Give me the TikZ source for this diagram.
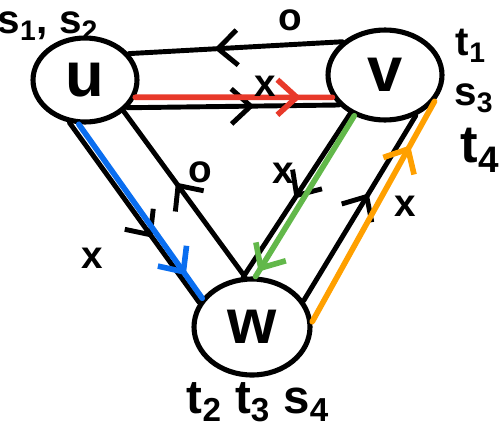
\documentclass[tikz,border=0pt]{standalone}
\usepackage{fontspec}
\setmainfont{Liberation Sans}
\usetikzlibrary{shapes.geometric,arrows.meta,decorations.markings}
\definecolor{penred}{HTML}{E8392A}
\definecolor{penblue}{HTML}{0A6EF0}
\definecolor{pengreen}{HTML}{62B84A}
\definecolor{penorange}{HTML}{FFA000}
\tikzset{
  vertex/.style={draw, ellipse, line width=2.9pt, inner sep=0pt, font=\bfseries\fontsize{36}{36}\selectfont},
  edge/.style={line width=2.8pt, line cap=round},
  hl/.style={line width=3.2pt, line cap=round},
  midarrow/.style={postaction={decorate, decoration={markings,
      mark=at position #1 with {\arrow{Straight Barb[length=11pt,width=20pt]}}}}},
  elabel/.style={font=\bfseries\fontsize{22}{22}\selectfont, inner sep=0pt},
  vlabel/.style={font=\bfseries\fontsize{23}{23}\selectfont, inner sep=0pt},
}
\begin{document}
\begin{tikzpicture}[x=0.02cm, y=-0.02cm]
\useasboundingbox (0,0) rectangle (502,436);
% vertices
\node[vertex, minimum width=2.08cm, minimum height=1.68cm] (u) at (85,80) {u};
\node[vertex, minimum width=2.28cm, minimum height=1.80cm] (v) at (385,75) {v};
\node[vertex, minimum width=2.32cm, minimum height=1.92cm] (w) at (252,327) {w};
% black edges
\draw[edge, midarrow=0.6] (v.142) -- (u.31);
\draw[edge, midarrow=0.6] (u.-33) -- (v.213);
\draw[edge, midarrow=0.64] (u.250) -- (w.155);
\draw[edge, midarrow=0.57] (w.98) -- (u.321);
\draw[edge, midarrow=0.52] (v.228) -- (w.100);
\draw[edge, midarrow=0.58] (w.27) -- (v.307);
% coloured paths
\draw[hl, penred, midarrow=0.84] (u.-19) -- (v.203);
\draw[hl, penblue, midarrow=0.87] (u.262) -- (w.150);
\draw[hl, pengreen, midarrow=0.97] (v.233) -- (w.86);
\draw[hl, penorange, midarrow=0.8] (w.5) -- (v.332);
% edge labels
\node[elabel] (l1) at (290,20) {o};
\node[elabel] (l2) at (265,86) {x};
\node[elabel] (l3) at (200,172) {o};
\node[elabel] (l4) at (283,173) {x};
\node[elabel] (l5) at (92,258) {x};
\node[elabel] (l6) at (405,206) {x};
% vertex annotations
\node[vlabel] (su) at (48,26) {s\textsubscript{1}, s\textsubscript{2}};
\node[vlabel] (t1) at (471,46) {t\textsubscript{1}};
\node[vlabel] (s3) at (474,98) {s\textsubscript{3}};
\node[font=\bfseries\fontsize{30}{30}\selectfont, inner sep=0pt] (t4) at (480,150) {t\textsubscript{4}};
\node[font=\bfseries\fontsize{27}{27}\selectfont, inner sep=0pt] (tw) at (258,402) {t\textsubscript{2} t\textsubscript{3} s\textsubscript{4}};
\end{tikzpicture}
\end{document}
